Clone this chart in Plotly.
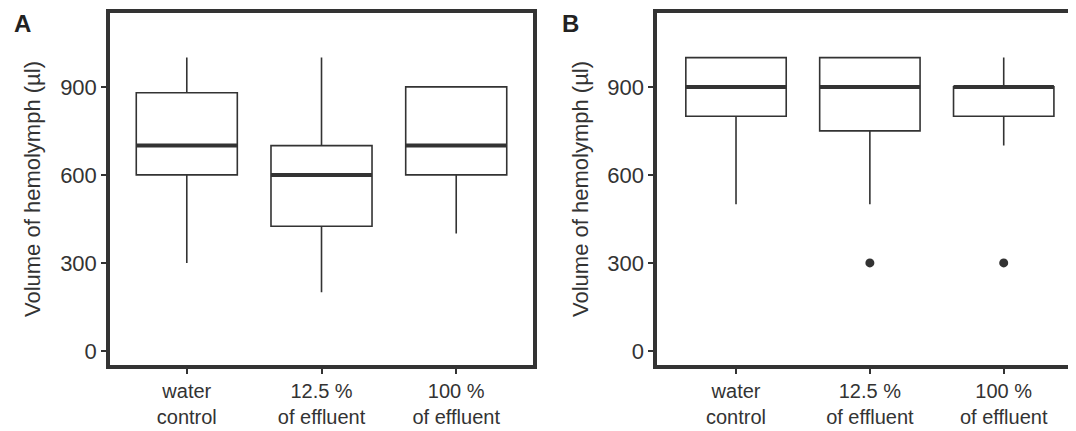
import plotly.graph_objects as go

groups = ["water<br>control", "12.5 %<br>of effluent", "100 %<br>of effluent"]

# panel A
a_low = [300, 200, 400]
a_q1 = [600, 425, 600]
a_med = [700, 600, 700]
a_q3 = [880, 700, 900]
a_high = [1000, 1000, 900]

# panel B
b_low = [500, 500, 700]
b_q1 = [800, 750, 800]
b_med = [900, 900, 900]
b_q3 = [1000, 1000, 900]
b_high = [1000, 1000, 1000]
b_out_x = [1, 2]
b_out_y = [300, 300]

ytitle = 'Volume of hemolymph (µl)'

dark = '#333333'
pos = list(range(len(groups)))
box_w = 0.75

fig = go.Figure()

for q1, med, q3, lo, hi, xa, ya in [(a_q1, a_med, a_q3, a_low, a_high, 'x', 'y'),
                                    (b_q1, b_med, b_q3, b_low, b_high, 'x2', 'y2')]:
    fig.add_trace(go.Box(x=pos, q1=q1, median=med, q3=q3,
                         lowerfence=lo, upperfence=hi,
                         width=box_w, whiskerwidth=0, boxpoints=False,
                         fillcolor='white', line=dict(color=dark, width=1.6),
                         xaxis=xa, yaxis=ya, hoverinfo='skip', showlegend=False))
    # thicker median line, like ggplot
    for i, m in enumerate(med):
        fig.add_shape(type='line', xref=xa, yref=ya,
                      x0=pos[i] - box_w / 2, x1=pos[i] + box_w / 2, y0=m, y1=m,
                      line=dict(color=dark, width=4))

fig.add_trace(go.Scatter(x=b_out_x, y=b_out_y, mode='markers',
                         marker=dict(color=dark, size=9),
                         xaxis='x2', yaxis='y2', hoverinfo='skip', showlegend=False))

font = dict(family='Liberation Sans, Arial, sans-serif', size=22, color=dark)
xfont = dict(font, size=20)
letter_font = dict(family='Liberation Sans, Arial, sans-serif', size=24, color='#222222')

xcommon = dict(tickmode='array', tickvals=pos, ticktext=groups,
               ticks='outside', ticklen=5, tickwidth=1.5, tickcolor=dark,
               showgrid=False, zeroline=False, showline=True, linecolor=dark,
               linewidth=3.5, tickfont=xfont, automargin=False)
ycommon = dict(range=[-48, 1152], tickvals=[0, 300, 600, 900],
               ticks='outside', ticklen=5, tickwidth=1.5, tickcolor=dark,
               showgrid=False, zeroline=False, showline=True, linecolor=dark,
               linewidth=3.5, tickfont=font, automargin=False)

# page body has an 8px margin, so the figure is sized to end at the window edge
fig.update_layout(
    width=1068, height=423,
    margin=dict(l=102, r=0, t=5, b=66),
    plot_bgcolor='white', paper_bgcolor='white',
    font=font,
    xaxis=dict(xcommon, domain=[0, 0.4379], range=[-0.57, 2.57], mirror=True),
    yaxis=dict(ycommon, mirror=True),
    xaxis2=dict(xcommon, domain=[0.5663, 1], range=[-0.59, 2.54], mirror=True, anchor='y2'),
    yaxis2=dict(ycommon, anchor='x2'),
    annotations=[
        dict(text='<b>A</b>', x=-0.091, y=1.014, xref='paper', yref='paper',
             xanchor='center', yanchor='top', showarrow=False, font=letter_font),
        dict(text='<b>B</b>', x=0.4772, y=1.014, xref='paper', yref='paper',
             xanchor='center', yanchor='top', showarrow=False, font=letter_font),
        dict(text=ytitle, x=-0.0807, y=0.5, xref='paper', yref='paper',
             xanchor='center', yanchor='middle', textangle=-90, showarrow=False, font=font),
        dict(text=ytitle, x=0.4865, y=0.5, xref='paper', yref='paper',
             xanchor='center', yanchor='middle', textangle=-90, showarrow=False, font=font),
    ],
)

fig.write_html("out.html")
